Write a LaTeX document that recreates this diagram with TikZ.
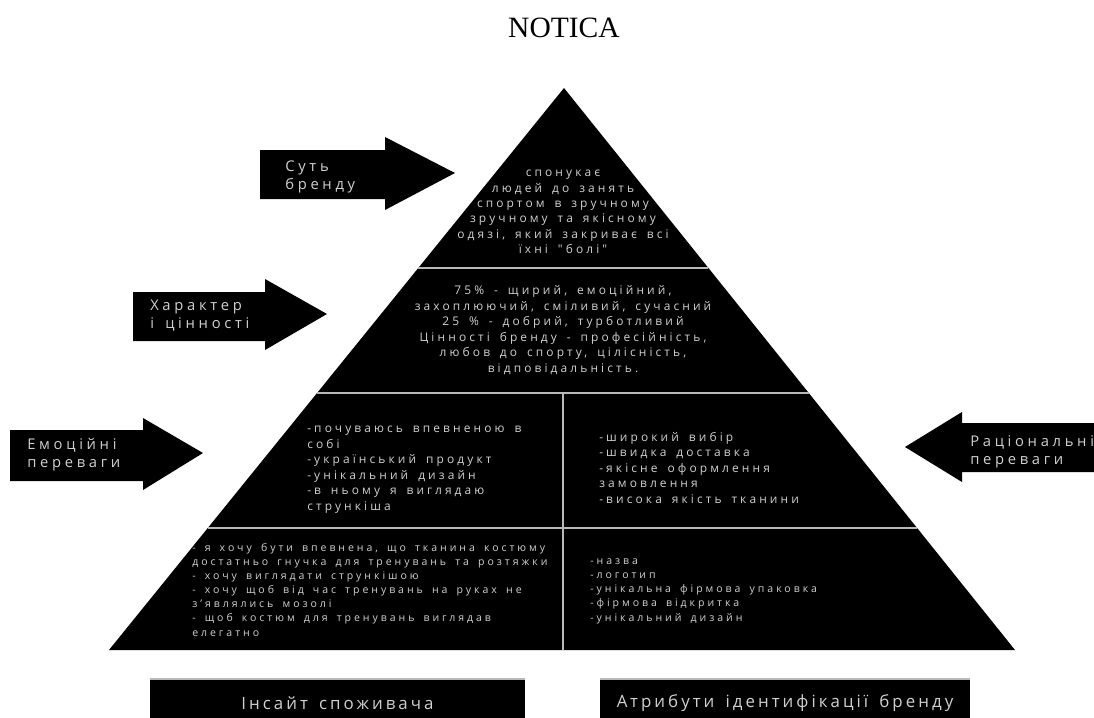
\documentclass[tikz,border=0pt]{standalone}
\usepackage{fontspec}
\setmainfont{Liberation Serif}
\newfontfamily\layerfont[LetterSpace=26,WordSpace=1.6]{Open Sans}
\newfontfamily\smallfont[LetterSpace=28,WordSpace=1.6]{Open Sans}
\newfontfamily\tagfont[LetterSpace=25,WordSpace=1.5]{Open Sans}
\newfontfamily\footfont[LetterSpace=18,WordSpace=1.5]{Open Sans}
\usetikzlibrary{calc}

\begin{document}
\begin{tikzpicture}[
    x=0.025cm,
    y=-0.025cm,
    layer/.style={
        text=black!18,
        inner sep=0pt,
        font=\layerfont\fontsize{8.5}{11}\selectfont,
    },
    smalllayer/.style={
        layer,
        font=\smallfont\fontsize{7.5}{10}\selectfont,
    },
    tag/.style={
        text=black!18,
        inner sep=0pt,
        align=left,
        anchor=base west,
        font=\tagfont\fontsize{10.5}{12.8}\selectfont,
    },
    footer/.style={
        fill=black,
        text=black!18,
        minimum height=1.2cm,
        font=\footfont\fontsize{12}{14}\selectfont,
    },
    divider/.style={
        draw=black!28,
        line width=1.2pt,
    },
]
    \fill[white] (0,0) rectangle (1094,718);
    \useasboundingbox (0,0) rectangle (1094,718);

    \node (title) at (564,28) {\fontsize{21}{21}\selectfont NOTICA};

    % pyramid
    \coordinate (apex) at (564,88);
    \coordinate (bl) at (109,650);
    \coordinate (br) at (1015,650);
    \fill (apex) -- (br) -- (bl) -- cycle;

    \coordinate (l1) at ($(apex)!0.3203!(bl)$);
    \coordinate (r1) at ($(apex)!0.3203!(br)$);
    \coordinate (l2) at ($(apex)!0.5427!(bl)$);
    \coordinate (r2) at ($(apex)!0.5427!(br)$);
    \coordinate (l3) at ($(apex)!0.7829!(bl)$);
    \coordinate (r3) at ($(apex)!0.7829!(br)$);
    \coordinate (mid) at ($(l2)!0.5!(r2)$);

    \draw[divider] (l1) -- (r1);
    \draw[divider] (l2) -- (r2);
    \draw[divider] (l3) -- (r3);
    \draw[divider] (mid) -- (mid |- bl);

    % arrows
    \fill (260,150) -- (385,150) -- (385,137) -- (455,173) -- (385,210) -- (385,199) -- (260,199) -- cycle;
    \fill (133,292) -- (265,292) -- (265,279) -- (327,314) -- (265,350) -- (265,341) -- (133,341) -- cycle;
    \fill (10,430) -- (143,430) -- (143,418) -- (203,453) -- (143,490) -- (143,481) -- (10,481) -- cycle;
    \fill (1094,423) -- (962,423) -- (962,412) -- (905,447) -- (962,482) -- (962,472) -- (1094,472) -- cycle;

    % base anchor = baseline of the last line
    \node (essence)   [tag] at (285,189) {Суть\\бренду};
    \node (character) [tag] at (150,328) {Характер\\і цінності};
    \node (emotional) [tag] at (27,467)  {Емоційні\\переваги};
    \node (rational)  [tag] at (970,464) {Раціональні\\переваги};

    % layers
    \node (essencetext) [layer, align=center] at (563,212) {спонукає\\людей до занять\\спортом в зручному\\зручному та якісному\\одязі, який закриває всі\\їхні "болі"};
    \node (valuestext) [layer, align=center] at (563,330) {75\% - щирий, емоційний,\\захоплюючий, сміливий, сучасний\\25 \% - добрий, турботливий\\Цінності бренду - професійність,\\любов до спорту, цілісність,\\відповідальність.};
    \node (emotext) [layer, align=left, anchor=base west] at (307,510) {-почуваюсь впевненою в\\собі\\-український продукт\\-унікальний дизайн\\-в ньому я виглядаю\\стрункіша};
    \node (ratiotext) [layer, align=left, anchor=base west] at (599,503) {-широкий вибір\\-швидка доставка\\-якісне оформлення\\замовлення\\-висока якість тканини};
    \node (insighttext) [smalllayer, align=left, anchor=base west] at (192,636) {- я хочу бути впевнена, що тканина костюму\\достатньо гнучка для тренувань та розтяжки\\- хочу виглядати стрункішою\\- хочу щоб від час тренувань на руках не\\з’являлись мозолі\\- щоб костюм для тренувань виглядав\\елегатно};
    \node (attrtext) [smalllayer, align=left, anchor=base west] at (590,621) {-назва\\-логотип\\-унікальна фірмова упаковка\\-фірмова відкритка\\-унікальний дизайн};

    % footers
    \node (insight)    [footer, minimum width=9.375cm] at (337.5,703) {Інсайт споживача};
    \node (attributes) [footer, minimum width=9.25cm]  at (785,703)   {Атрибути ідентифікації бренду};
    \draw[divider] (insight.north west) -- (insight.north east);
    \draw[divider] (attributes.north west) -- (attributes.north east);
\end{tikzpicture}
\end{document}
